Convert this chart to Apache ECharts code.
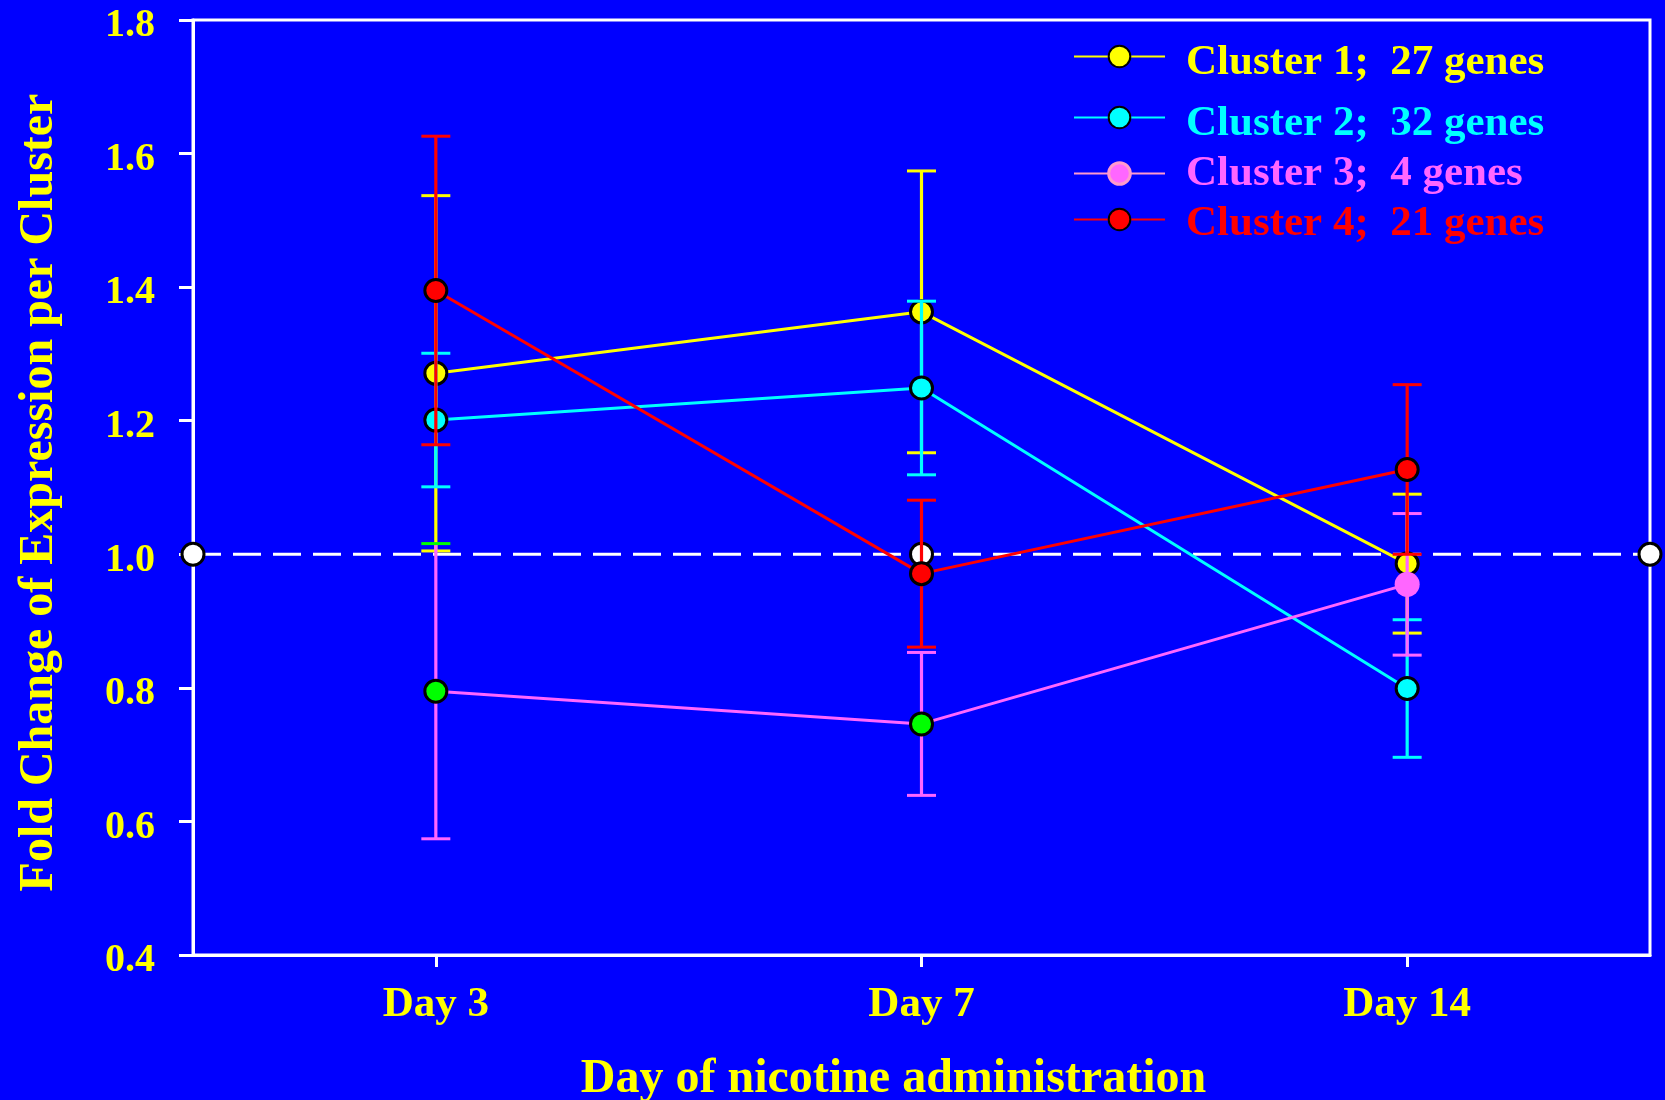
<!DOCTYPE html>
<html>
<head>
<meta charset="utf-8">
<title>Fold change of expression per cluster</title>
<script src="https://cdn.jsdelivr.net/npm/echarts@6/dist/echarts.min.js"></script>
<style>
  html, body { margin: 0; padding: 0; background: #0000ff; }
  #chart { width: 1665px; height: 1100px; }
</style>
</head>
<body>
<div id="chart"></div>
<script>
// ---- data ----
const days = ['Day 3', 'Day 7', 'Day 14'];
const dayPos = [1, 2, 3];

const clusterNames = [
  'Cluster 1;  27 genes',
  'Cluster 2;  32 genes',
  'Cluster 3;  4 genes',
  'Cluster 4;  21 genes'
];

// mean fold change and error (+/-) per day
const c1Mean = [1.271, 1.363, 0.986];
const c1Err  = [0.266, 0.211, 0.104];
const c2Mean = [1.201, 1.249, 0.799];
const c2Err  = [0.100, 0.130, 0.103];
const c3Mean = [0.795, 0.746, 0.955];
const c3Err  = [0.221, 0.107, 0.106];
const c4Mean = [1.395, 0.971, 1.127];
const c4Err  = [0.231, 0.110, 0.127];

// no-change reference level
const refX = [0.5, 2, 3.5];
const refLevel = 1.0;

const yMin = 0.4, yMax = 1.8, yStep = 0.2;

// ---- styling ----
const FONT = "'Liberation Serif', 'Times New Roman', serif";
const clusterStyles = [
  { color: '#ffff00', text: '#ffff00', fills: null },
  { color: '#00ffff', text: '#00ffff', fills: null },
  { color: '#ff66ff', text: '#ff66ff', fills: ['#00ff00', '#00ff00', '#ff66ff'],
    topCaps: ['#00ff00', '#ff66ff', '#ff66ff'],
    legendLine: '#ff9acc', legendBorder: '#ff9acc' },
  { color: '#ff0000', text: '#ff0000', fills: null }
];
// legend rows: box top and downward text offset
const legendRows = [
  { top: 41, shift: 6 },
  { top: 102, shift: 6 },
  { top: 152, shift: 0 },
  { top: 202, shift: 4 }
];
const LEGEND_FONT = 43;
const CAP = 29;
const MARK = 22;

const means = [c1Mean, c2Mean, c3Mean, c4Mean];
const errs = [c1Err, c2Err, c3Err, c4Err];

const series = [];

// dashed reference line at 1.0
series.push({
  type: 'line',
  name: 'ref',
  z: 2,
  silent: true,
  data: refX.map(x => [x, refLevel]),
  symbol: 'circle',
  symbolSize: MARK,
  itemStyle: { color: '#ffffff', borderColor: '#000000', borderWidth: 3 },
  lineStyle: { color: '#ffffff', width: 3, type: [28, 12] },
  emphasis: { disabled: true }
});

means.forEach((m, k) => {
  const st = clusterStyles[k];
  const e = errs[k];
  // error bars
  series.push({
    type: 'custom',
    name: clusterNames[k] + ' err',
    z: 3 + 2 * k,
    silent: true,
    data: dayPos.map((x, i) => [x, m[i] - e[i], m[i] + e[i]]),
    encode: { x: 0, y: [1, 2] },
    renderItem: function (params, api) {
      const x = api.value(0);
      const lo = api.coord([x, api.value(1)]);
      const hi = api.coord([x, api.value(2)]);
      const i = params.dataIndex;
      const topCol = st.topCaps ? st.topCaps[i] : st.color;
      const h = CAP / 2;
      return {
        type: 'group',
        children: [
          { type: 'line', shape: { x1: lo[0], y1: hi[1], x2: lo[0], y2: lo[1] },
            style: { stroke: st.color, lineWidth: 3.2 } },
          { type: 'line', shape: { x1: hi[0] - h, y1: hi[1], x2: hi[0] + h, y2: hi[1] },
            style: { stroke: topCol, lineWidth: 3 } },
          { type: 'line', shape: { x1: lo[0] - h, y1: lo[1], x2: lo[0] + h, y2: lo[1] },
            style: { stroke: st.color, lineWidth: 3 } }
        ]
      };
    }
  });
  // means with markers
  series.push({
    type: 'line',
    name: clusterNames[k],
    z: 4 + 2 * k,
    data: dayPos.map((x, i) => {
      const item = { value: [x, m[i]] };
      if (st.fills) {
        const f = st.fills[i];
        if (f === st.color) {
          item.symbolSize = MARK + 3;
          item.itemStyle = { color: f, borderColor: f, borderWidth: 0 };
        } else {
          item.itemStyle = { color: f, borderColor: '#000000', borderWidth: 3 };
        }
      }
      return item;
    }),
    symbol: 'circle',
    symbolSize: MARK,
    itemStyle: { color: st.color, borderColor: '#000000', borderWidth: 3 },
    lineStyle: { color: st.color, width: 3 },
    emphasis: { disabled: true }
  });
});

const legends = clusterNames.map((name, k) => {
  const st = clusterStyles[k];
  const row = legendRows[k];
  const dataItem = { name: name };
  if (st.legendLine) {
    dataItem.lineStyle = { color: st.legendLine };
    dataItem.itemStyle = { color: st.color, borderColor: st.legendBorder, borderWidth: 3 };
  }
  return {
    data: [dataItem],
    left: 1073,
    top: row.top,
    padding: 0,
    itemWidth: 91,
    itemHeight: 27,
    selectedMode: false,
    formatter: n => '{t|' + n + '}',
    textStyle: {
      color: st.text,
      fontFamily: FONT,
      fontWeight: 'bold',
      fontSize: LEGEND_FONT,
      rich: {
        t: {
          color: st.text,
          fontFamily: FONT,
          fontWeight: 'bold',
          fontSize: LEGEND_FONT,
          padding: [row.shift * 2, 0, 0, 16]
        }
      }
    }
  };
});

const chart = echarts.init(document.getElementById('chart'), null, { renderer: 'canvas' });
chart.setOption({
  animation: false,
  backgroundColor: '#0000ff',
  grid: {
    left: 193, right: 15, top: 20, bottom: 145,
    show: true, borderColor: '#ffffff', borderWidth: 3,
    backgroundColor: 'transparent',
    outerBoundsMode: 'none'
  },
  legend: legends,
  xAxis: {
    type: 'value',
    min: 0.5, max: 3.5,
    name: 'Day of nicotine administration',
    nameLocation: 'middle',
    nameGap: 101,
    nameMoveOverlap: false,
    nameTextStyle: {
      color: '#ffff00', fontFamily: FONT, fontWeight: 'bold', fontSize: 48,
      padding: [0, 56, 0, 0]
    },
    axisLine: { show: true, lineStyle: { color: '#ffffff', width: 3 } },
    axisTick: { show: true, length: 12, lineStyle: { color: '#ffffff', width: 3 }, customValues: dayPos },
    axisLabel: {
      customValues: dayPos,
      margin: 28,
      color: '#ffff00', fontFamily: FONT, fontWeight: 'bold', fontSize: 43,
      formatter: v => days[dayPos.indexOf(v)] || ''
    },
    splitLine: { show: false }
  },
  yAxis: {
    type: 'value',
    min: yMin, max: yMax, interval: yStep,
    name: 'Fold Change of Expression per Cluster',
    nameLocation: 'middle',
    nameGap: 129,
    nameMoveOverlap: false,
    nameTextStyle: {
      color: '#ffff00', fontFamily: FONT, fontWeight: 'bold', fontSize: 48,
      padding: [0, 10, 0, 0]
    },
    axisLine: { show: true, lineStyle: { color: '#ffffff', width: 3 } },
    axisTick: { show: true, length: 14, lineStyle: { color: '#ffffff', width: 3 } },
    axisLabel: {
      margin: 38,
      color: '#ffff00', fontFamily: FONT, fontWeight: 'bold', fontSize: 40,
      formatter: v => '{v|' + v.toFixed(1) + '}',
      rich: {
        v: {
          color: '#ffff00', fontFamily: FONT, fontWeight: 'bold', fontSize: 40,
          padding: [12, 0, 0, 0]
        }
      }
    },
    splitLine: { show: false }
  },
  series: series
});
</script>
</body>
</html>
